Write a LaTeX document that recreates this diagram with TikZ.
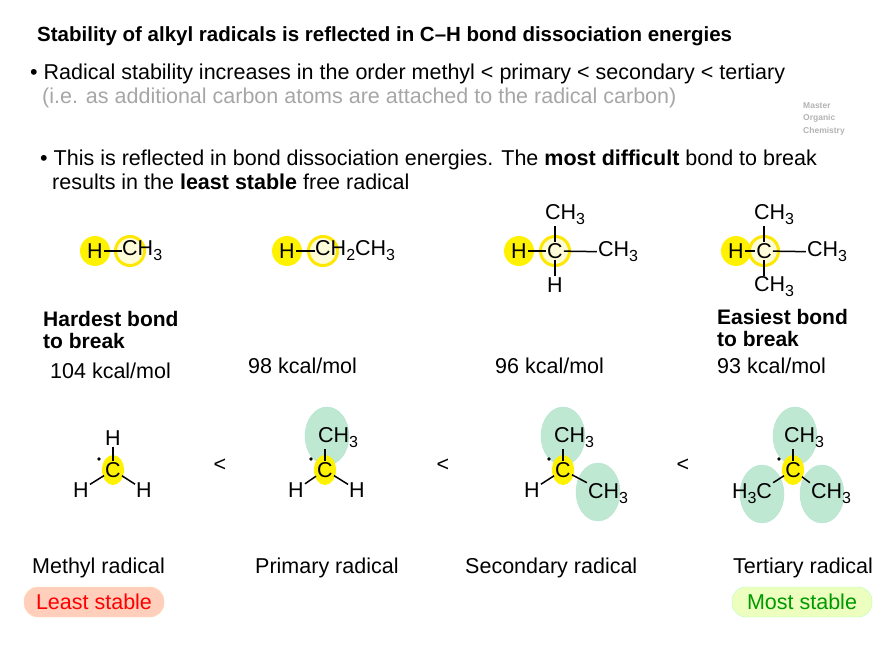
\documentclass[tikz,border=0pt]{standalone}
\usepackage{fontspec}
\setmainfont{Liberation Sans}
\usetikzlibrary{shapes.geometric}
\newcommand\sbs[1]{\raisebox{-0.45ex}{\fontsize{16}{16}\selectfont #1}}
\begin{document}
\begin{tikzpicture}[x=1pt,y=-1pt,
  txt/.style={anchor=base west,inner sep=0,font=\fontsize{21.5}{26}\selectfont},
  atm/.style={inner sep=1pt,font=\fontsize{21.5}{26}\selectfont},
  yel/.style={circle,fill=yellow,minimum size=30pt,inner sep=0},
  ring/.style={circle,draw=yellow!90!orange,line width=3pt,fill=yellow!15,minimum size=29pt,inner sep=0},
  glow/.style={ellipse,fill=cyan!30!green!25,draw=cyan!40!green!30,inner sep=0},
  bond/.style={line width=1.5pt},
  pill/.style={rounded corners=14pt,minimum width=140pt,minimum height=30pt,font=\fontsize{21.5}{26}\selectfont}]
\useasboundingbox (0,0) rectangle (890,652);
\node[txt,font=\fontsize{20.5}{26}\selectfont\bfseries] (t) at (37,42) {Stability of alkyl radicals is reflected in C--H bond dissociation energies};
\node[txt] (b1) at (30,80) {\textbullet\ Radical stability increases in the order methyl < primary < secondary < tertiary};
\node[txt,text=gray!70] (b1b) at (42,104) {(i.e. as additional carbon atoms are attached to the radical carbon)};
\node[anchor=north west,align=left,text=gray!60,inner sep=0,font=\fontsize{8.5}{12.5}\selectfont\bfseries] (mo) at (803,102) {Master\\Organic\\Chemistry};
\node[txt] (b2) at (40,166) {\textbullet\ This is reflected in bond dissociation energies. The \textbf{most difficult} bond to break};
\node[txt] (b2b) at (52,190) {results in the \textbf{least stable} free radical};
% row 1
\node[yel] (y1) at (95,251) {}; \node[ring] (r1) at (130,251) {};
\node[atm] (h1) at (95,251) {H};
\node[atm,anchor=west,inner sep=0] (c1) at (122,251) {CH\sbs{3}};
\draw[bond] (h1.east) -- (c1.west);
\node[yel] (y2) at (287,251) {}; \node[ring] (r2) at (323,251) {};
\node[atm] (h2) at (287,251) {H};
\node[atm,anchor=west,inner sep=0] (c2) at (315,251) {CH\sbs{2}CH\sbs{3}};
\draw[bond] (h2.east) -- (c2.west);
\node[yel] (y3) at (519,251) {}; \node[ring] (r3) at (555,251) {};
\node[atm] (h3) at (519,251) {H}; \node[atm] (c3) at (555,251) {C};
\node[atm] (u3) at (565,215) {CH\sbs{3}}; \node[atm] (d3) at (555,285) {H};
\node[atm] (s3) at (618,252) {CH\sbs{3}};
\draw[bond] (h3) -- (c3); \draw[bond] (c3) -- (s3); \draw[bond] (c3) -- (c3|-u3.south); \draw[bond] (c3) -- (d3);
\node[yel] (y4) at (736,251) {}; \node[ring] (r4) at (764,251) {};
\node[atm] (h4) at (736,251) {H}; \node[atm] (c4) at (764,251) {C};
\node[atm] (u4) at (774,215) {CH\sbs{3}}; \node[atm] (d4) at (774,287) {CH\sbs{3}};
\node[atm] (s4) at (827,252) {CH\sbs{3}};
\draw[bond] (h4) -- (c4); \draw[bond] (c4) -- (s4); \draw[bond] (c4) -- (c4|-u4.south); \draw[bond] (c4) -- (c4|-d4.north);
% labels
\node[txt,font=\fontsize{21}{22}\selectfont\bfseries,anchor=north west,align=left] (hb) at (43,311) {Hardest bond\\to break};
\node[txt] (k1) at (50,378) {104 kcal/mol};
\node[txt] (k2) at (248,373) {98 kcal/mol};
\node[txt] (k3) at (495,373) {96 kcal/mol};
\node[txt,font=\fontsize{21}{22}\selectfont\bfseries,anchor=north west,align=left] (eb) at (717,309) {Easiest bond\\to break};
\node[txt] (k4) at (717,373) {93 kcal/mol};
% radicals
\node[glow,minimum width=44pt,minimum height=58pt] (cp1) at (327,436) {};
\node[glow,minimum width=44pt,minimum height=58pt] (cs1) at (563,436) {};
\node[glow,minimum width=44pt,minimum height=58pt] (cs2) at (598,492) {};
\node[glow,minimum width=44pt,minimum height=58pt] (ct1) at (795,436) {};
\node[glow,minimum width=44pt,minimum height=58pt] (ct2) at (762,494) {};
\node[glow,minimum width=44pt,minimum height=58pt] (ct3) at (822,494) {};
\foreach \n/\x in {m/113,p/325,s/563,t/793}{
  \node[ellipse,fill=yellow,minimum width=22pt,minimum height=30pt,inner sep=0] (y\n) at (\x,470) {};
  \node[atm] (c\n) at (\x,470) {C};
  \fill (\x-14,459) circle (1.8pt);
}
\node[atm] (mh1) at (113,438) {H}; \node[atm] (mh2) at (81,490) {H}; \node[atm] (mh3) at (144,490) {H};
\draw[bond] (cm) -- (mh1); \draw[bond] (cm) -- (mh2); \draw[bond] (cm) -- (mh3);
\node[atm] (pu) at (338,438) {CH\sbs{3}}; \node[atm] (ph1) at (296,490) {H}; \node[atm] (ph2) at (357,490) {H};
\draw[bond] (cp) -- (cp|-pu.south); \draw[bond] (cp) -- (ph1); \draw[bond] (cp) -- (ph2);
\node[atm] (su) at (574,438) {CH\sbs{3}}; \node[atm] (sh) at (532,490) {H}; \node[atm] (sr) at (608,494) {CH\sbs{3}};
\draw[bond] (cs) -- (cs|-su.south); \draw[bond] (cs) -- (sh); \draw[bond] (cs) -- (sr.north west);
\node[atm] (tu) at (804,438) {CH\sbs{3}}; \node[atm] (tl) at (752,494) {H\sbs{3}C}; \node[atm] (tr) at (831,494) {CH\sbs{3}};
\draw[bond] (ct) -- (ct|-tu.south); \draw[bond] (ct) -- (tl.north east); \draw[bond] (ct) -- (tr.north west);
\node[atm] (lt1) at (220,465) {<}; \node[atm] (lt2) at (443,465) {<}; \node[atm] (lt3) at (683,465) {<};
% names
\node[txt] (n1) at (32,573) {Methyl radical};
\node[txt] (n2) at (255,573) {Primary radical};
\node[txt] (n3) at (465,573) {Secondary radical};
\node[txt] (n4) at (733,573) {Tertiary radical};
\node[pill,fill=orange!25!pink!60,draw=orange!30,text=red] (ls) at (94,602) {Least stable};
\node[pill,fill=green!30!yellow!25,draw=green!30,text=green!60!black] (ms) at (802,602) {Most stable};
\end{tikzpicture}
\end{document}
